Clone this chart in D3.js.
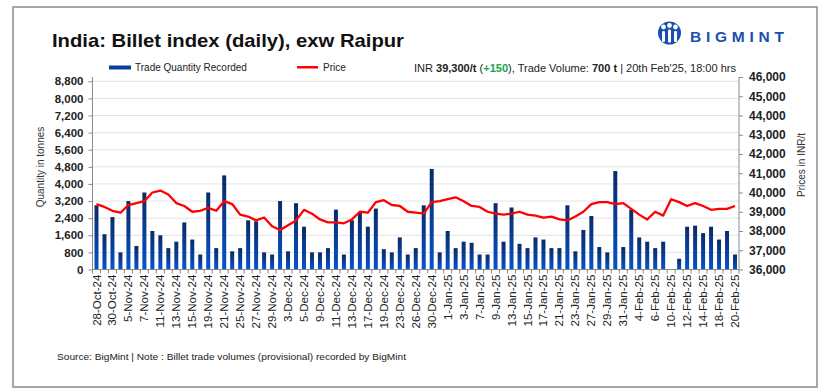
<!DOCTYPE html>
<html><head><meta charset="utf-8">
<script src="https://cdn.jsdelivr.net/npm/d3@7/dist/d3.min.js"></script>
<style>
html,body{margin:0;padding:0;background:#fff;}
svg{display:block;font-family:"Liberation Sans",Arial,sans-serif;}
</style></head>
<body>
<svg id="chart" width="828" height="392"></svg>
<script>
const dates = ["28-Oct-24","29-Oct-24","30-Oct-24","4-Nov-24","5-Nov-24","6-Nov-24","7-Nov-24","8-Nov-24","11-Nov-24","12-Nov-24",
"13-Nov-24","14-Nov-24","15-Nov-24","18-Nov-24","19-Nov-24","20-Nov-24","21-Nov-24","22-Nov-24","25-Nov-24","26-Nov-24",
"27-Nov-24","28-Nov-24","29-Nov-24","2-Dec-24","3-Dec-24","4-Dec-24","5-Dec-24","6-Dec-24","9-Dec-24","10-Dec-24",
"11-Dec-24","12-Dec-24","13-Dec-24","16-Dec-24","17-Dec-24","18-Dec-24","19-Dec-24","20-Dec-24","23-Dec-24","24-Dec-24",
"26-Dec-24","27-Dec-24","30-Dec-24","31-Dec-24","1-Jan-25","2-Jan-25","3-Jan-25","6-Jan-25","7-Jan-25","8-Jan-25",
"9-Jan-25","10-Jan-25","13-Jan-25","14-Jan-25","15-Jan-25","16-Jan-25","17-Jan-25","20-Jan-25","21-Jan-25","22-Jan-25",
"23-Jan-25","24-Jan-25","27-Jan-25","28-Jan-25","29-Jan-25","30-Jan-25","31-Jan-25","3-Feb-25","4-Feb-25","5-Feb-25",
"6-Feb-25","7-Feb-25","10-Feb-25","11-Feb-25","12-Feb-25","13-Feb-25","14-Feb-25","17-Feb-25","18-Feb-25","19-Feb-25","20-Feb-25"];

const quantity = [3000,1650,2450,800,3200,1100,3600,1800,1600,1000,
1300,2200,1400,700,3600,1000,4400,850,1000,2300,
2250,800,700,3200,850,3100,2000,800,800,1000,
2800,700,2300,2700,2000,2850,950,800,1500,700,
1000,3000,4700,800,1800,1000,1300,1250,700,700,
3100,1300,2900,1200,1000,1500,1400,1000,1000,3000,
850,1850,2500,1050,800,4600,1050,2800,1500,1300,
1000,1300,null,500,2000,2050,1700,2000,1400,1800,700];

const price = [39400,39250,39050,38950,39350,39450,39550,40000,40100,39900,
39450,39300,39000,39050,39200,39050,39550,39400,38850,38750,
38550,38700,38250,38050,38300,38550,39100,38900,38600,38450,
38450,38400,38600,39000,38950,39500,39600,39350,39300,39000,
38950,38900,39500,39550,39650,39750,39550,39300,39250,39000,
38900,38850,38900,39000,38850,38800,38700,38750,38600,38550,
38750,39000,39400,39500,39500,39400,39450,39150,38850,38600,
39000,38800,39650,39500,39300,39450,39300,39100,39150,39150,39300];

const leftTicks = [0,800,1600,2400,3200,4000,4800,5600,6400,7200,8000,8800];
const rightTicks = [36000,37000,38000,39000,40000,41000,42000,43000,44000,45000,46000];

const titleText = "India: Billet index (daily), exw Raipur";
const legendLabels = ["Trade Quantity Recorded","Price"];
const footerText = "Source: BigMint | Note : Billet trade volumes (provisional) recorded by BigMint";

const svg = d3.select("#chart");
const L = 92.5, R = 739, T = 77, B = 269.5;

// frame
svg.append("rect").attr("x",13).attr("y",7).attr("width",804).attr("height",380)
  .attr("fill","none").attr("stroke","#8a8a8a").attr("stroke-width",1.5);

// gradient
const defs = svg.append("defs");
const g1 = defs.append("linearGradient").attr("id","barGrad").attr("x1",0).attr("y1",0).attr("x2",0).attr("y2",1);
g1.append("stop").attr("offset","0%").attr("stop-color","#0b2a66");
g1.append("stop").attr("offset","100%").attr("stop-color","#0453cc");

// title
svg.append("text").attr("x",52).attr("y",47).attr("font-size",19).attr("font-weight","bold")
  .attr("fill","#111").attr("textLength",352).attr("lengthAdjust","spacingAndGlyphs").text(titleText);

// logo
const logo = svg.append("g");
logo.append("circle").attr("cx",669.5).attr("cy",33).attr("r",11.5).attr("fill","#1a4fb0");
[[663.5,27],[669.5,25.5],[675.5,27]].forEach(([cx,cy])=>{
  logo.append("circle").attr("cx",cx).attr("cy",cy).attr("r",2.4).attr("fill","#fff");
});
logo.append("rect").attr("x",662).attr("y",31).attr("width",3).attr("height",11).attr("fill","#fff").attr("rx",1.2);
logo.append("rect").attr("x",668).attr("y",29.5).attr("width",3).attr("height",13).attr("fill","#fff").attr("rx",1.2);
logo.append("rect").attr("x",674).attr("y",31).attr("width",3).attr("height",11).attr("fill","#fff").attr("rx",1.2);
svg.append("text").attr("x",690).attr("y",41.7).attr("font-size",15.5).attr("font-weight","bold")
  .attr("fill","#1a4fb0").attr("textLength",94).attr("lengthAdjust","spacing").text("BIGMINT");

// scales
const x = d3.scaleBand().domain(dates).range([L,R]).paddingInner(0.5).paddingOuter(0.25);
const yL = d3.scaleLinear().domain([0,9000]).range([B,T]);
const yR = d3.scaleLinear().domain([36000,46000]).range([B,T]);

// gridlines
svg.append("g").selectAll("line").data(leftTicks.slice(1)).join("line")
  .attr("x1",L).attr("x2",R).attr("y1",d=>yL(d)).attr("y2",d=>yL(d))
  .attr("stroke","#e3e3e3").attr("stroke-width",1);

// bars
svg.append("g").selectAll("rect").data(dates.map((d,i)=>({d,v:quantity[i]})).filter(o=>o.v!=null)).join("rect")
  .attr("x",o=>x(o.d)).attr("width",x.bandwidth())
  .attr("y",o=>yL(o.v)).attr("height",o=>B-yL(o.v)).attr("fill","url(#barGrad)");

// price line
const line = d3.line().x((d,i)=>x(dates[i])+x.bandwidth()/2).y(d=>yR(d));
svg.append("path").datum(price).attr("d",line).attr("fill","none")
  .attr("stroke","#ff0000").attr("stroke-width",2.3).attr("stroke-linejoin","round");

// left axis
const axL = svg.append("g").attr("transform",`translate(${L},0)`)
  .call(d3.axisLeft(yL).tickValues(leftTicks).tickFormat(d3.format(",")).tickSize(4).tickPadding(5));
axL.select(".domain").attr("stroke","#8a8a8a").attr("d",`M-0,${T}V${B}`);
axL.selectAll(".tick line").attr("stroke","#8a8a8a");
axL.selectAll("text").attr("font-size",11.5).attr("font-weight","bold").attr("fill","#222")
  .attr("font-family","Liberation Sans, Arial, sans-serif");

// right axis
const axR = svg.append("g").attr("transform",`translate(${R},0)`)
  .call(d3.axisRight(yR).tickValues(rightTicks).tickFormat(d3.format(",")).tickSize(4).tickPadding(6));
axR.select(".domain").attr("stroke","#8a8a8a").attr("d",`M0,${T}V${B}`);
axR.selectAll(".tick line").attr("stroke","#8a8a8a");
axR.selectAll("text").attr("font-size",12).attr("font-weight","bold").attr("fill","#222")
  .attr("font-family","Liberation Sans, Arial, sans-serif");

// bottom axis
const axB = svg.append("g").attr("transform",`translate(0,${B})`)
  .call(d3.axisBottom(x).tickValues(dates.filter((d,i)=>i%2===0)).tickSize(0).tickPadding(4));
axB.select(".domain").attr("stroke","#8a8a8a").attr("d",`M${L},0H${R}`);
axB.selectAll(".tick text").attr("font-size",11.5).attr("fill","#222")
  .attr("font-family","Liberation Sans, Arial, sans-serif")
  .attr("transform","rotate(-90)").attr("text-anchor","end").attr("dx","-0.45em").attr("dy","0.35em")
  .attr("x",0).attr("y",0);
// category boundary tick marks
svg.append("g").selectAll("line").data(d3.range(dates.length+1)).join("line")
  .attr("x1",i=>L+i*x.step()*((R-L)/(x.step()*dates.length))).attr("x2",i=>L+i*x.step()*((R-L)/(x.step()*dates.length)))
  .attr("y1",B).attr("y2",B+4).attr("stroke","#8a8a8a").attr("stroke-width",1);

// axis titles
svg.append("text").attr("transform","translate(44,167) rotate(-90)").attr("text-anchor","middle")
  .attr("font-size",10).attr("fill","#333").text("Quantity in tonnes");
svg.append("text").attr("transform","translate(805,165) rotate(-90)").attr("text-anchor","middle")
  .attr("font-size",10).attr("fill","#333").text("Prices in INR/t");

// legend
svg.append("rect").attr("x",109).attr("y",65.5).attr("width",22).attr("height",4).attr("fill","#0a3d9a");
svg.append("text").attr("x",135).attr("y",71).attr("font-size",10).attr("fill","#222").text(legendLabels[0]);
svg.append("rect").attr("x",297).attr("y",66).attr("width",21).attr("height",2.5).attr("fill","#ff0000");
svg.append("text").attr("x",323).attr("y",71).attr("font-size",10).attr("fill","#222").text(legendLabels[1]);

// info text
const info = svg.append("text").attr("x",414).attr("y",72).attr("font-size",11).attr("fill","#222")
  .attr("textLength",322).attr("lengthAdjust","spacingAndGlyphs");
info.append("tspan").text("INR ");
info.append("tspan").attr("font-weight","bold").text("39,300/t");
info.append("tspan").text(" (");
info.append("tspan").attr("font-weight","bold").attr("fill","#1aa34a").text("+150");
info.append("tspan").text("), Trade Volume: ");
info.append("tspan").attr("font-weight","bold").text("700 t");
info.append("tspan").text(" | 20th Feb'25, 18:00 hrs");

// footer
svg.append("text").attr("x",57).attr("y",360).attr("font-size",9.8).attr("fill","#222")
  .attr("textLength",349).attr("lengthAdjust","spacingAndGlyphs").text(footerText);
</script>
</body></html>
